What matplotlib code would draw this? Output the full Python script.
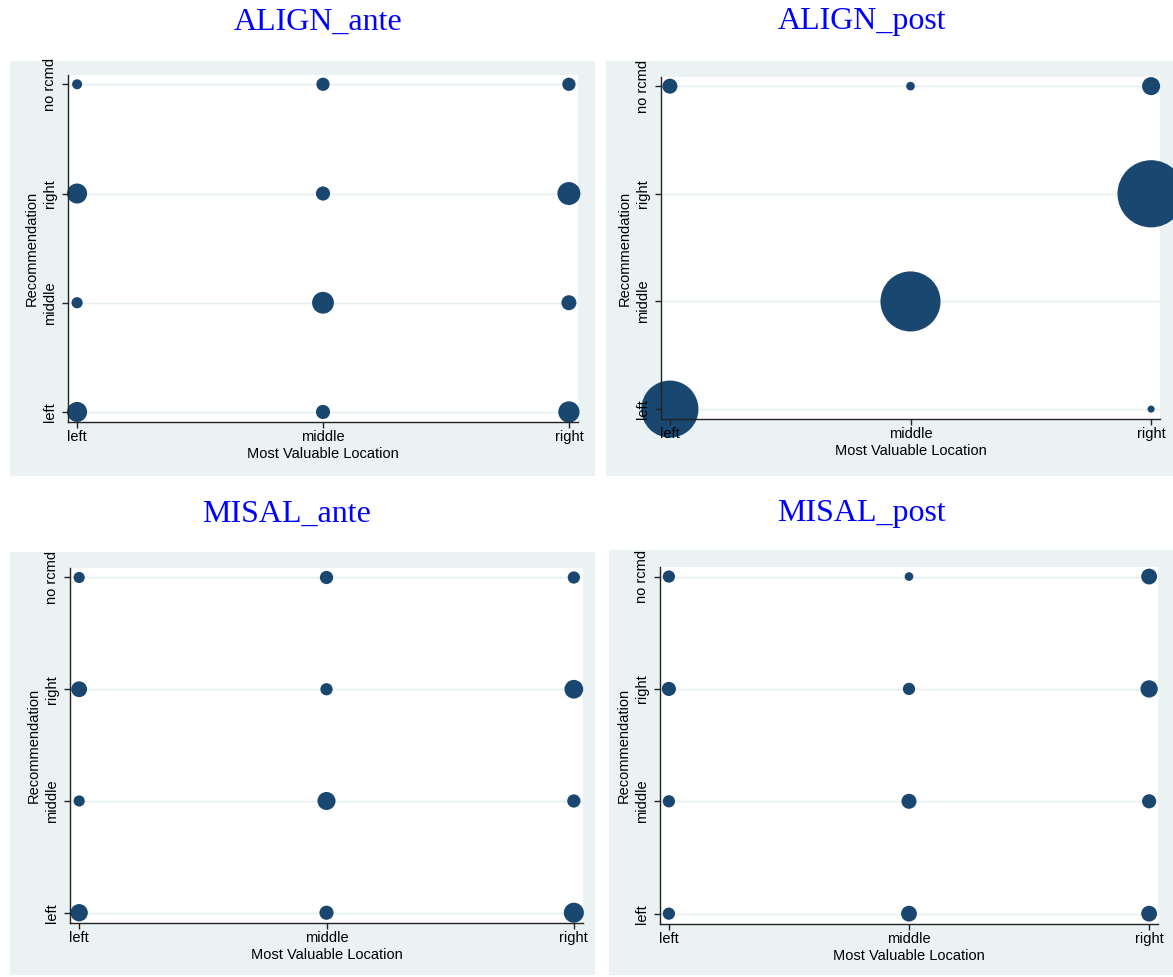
import matplotlib.pyplot as plt
from matplotlib.patches import Rectangle

# categories
x_labels = ["left", "middle", "right"]
y_labels = ["left", "middle", "right", "no rcmd"]
titles = ["ALIGN_ante", "ALIGN_post", "MISAL_ante", "MISAL_post"]

# frequencies per cell (x = most valuable location, y = recommendation)
# order of columns: left, middle, right ; rows: left, middle, right, no rcmd
align_ante = [[16, 8, 18],
              [5, 19, 9],
              [16, 8, 21],
              [4, 7, 7]]
align_post = [[130, 0, 2],
              [0, 144, 0],
              [0, 0, 180],
              [9, 3, 13]]
misal_ante = [[12, 8, 16],
              [5, 13, 7],
              [10, 6, 14],
              [5, 7, 6]]
misal_post = [[6, 10, 10],
              [6, 9, 8],
              [8, 6, 12],
              [6, 3, 10]]
panels = [align_ante, align_post, misal_ante, misal_post]

W, H = 1173, 977
navy = "#1a476f"
bg = "#eaf2f3"
fs = 10.5

# pixel boxes: gray region, plot region, title position
gray_boxes = [(10, 61, 595, 476), (606, 61, 1173, 476),
              (10, 552, 595, 975), (609, 550, 1173, 975)]
plot_boxes = [(68, 75, 578, 422), (661, 77, 1160, 419),
              (70, 568, 583, 923), (660, 567, 1158, 924)]
title_pos = [(318, 22), (862, 22), (287, 514), (862, 514)]

fig = plt.figure(figsize=(W / 100, H / 100), dpi=100)

for i in range(4):
    gx0, gy0, gx1, gy1 = gray_boxes[i]
    fig.patches.append(Rectangle((gx0 / W, 1 - gy1 / H), (gx1 - gx0) / W, (gy1 - gy0) / H,
                                 transform=fig.transFigure, facecolor=bg, edgecolor="none", zorder=-5))

    x0, y0, x1, y1 = plot_boxes[i]
    ax = fig.add_axes([x0 / W, 1 - y1 / H, (x1 - x0) / W, (y1 - y0) / H])
    ax.set_facecolor("white")

    # horizontal grid lines under the bubbles
    for yv in range(1, len(y_labels) + 1):
        ax.axhline(yv, color="#e4edef", lw=1, zorder=1)

    xs, ys, ss = [], [], []
    for r in range(len(y_labels)):
        for c in range(len(x_labels)):
            f = panels[i][r][c]
            if f > 0:
                xs.append(c + 1)
                ys.append(r + 1)
                ss.append(f * 13)
    ax.scatter(xs, ys, s=ss, color=navy, edgecolors="none", zorder=2, clip_on=False)

    ax.set_xlim(0.963, 3.037)
    ax.set_ylim(0.908, 4.085)
    ax.set_xticks([1, 2, 3])
    ax.set_xticklabels(x_labels, fontsize=fs, family="Liberation Sans")
    ax.set_yticks([1, 2, 3, 4])
    ax.set_yticklabels(y_labels, fontsize=fs, family="Liberation Sans", rotation=90, va="center")
    ax.tick_params(axis="x", length=4, width=1, color="#222222", pad=2)
    ax.tick_params(axis="y", length=4, width=1, color="#222222", pad=4)
    ax.set_axisbelow(False)
    for sp in ["top", "right"]:
        ax.spines[sp].set_visible(False)
    for sp in ["left", "bottom"]:
        ax.spines[sp].set_color("#222222")
        ax.spines[sp].set_linewidth(1)
    ax.set_xlabel("Most Valuable Location", fontsize=fs, family="Liberation Sans", labelpad=2)
    ax.set_ylabel("Recommendation", fontsize=fs, family="Liberation Sans", labelpad=3)

    tx, ty = title_pos[i]
    fig.text(tx / W, 1 - ty / H, titles[i], ha="center", va="center", color="#0000ff",
             fontsize=23, family="Liberation Serif")

fig.savefig("out.png", dpi=100)
